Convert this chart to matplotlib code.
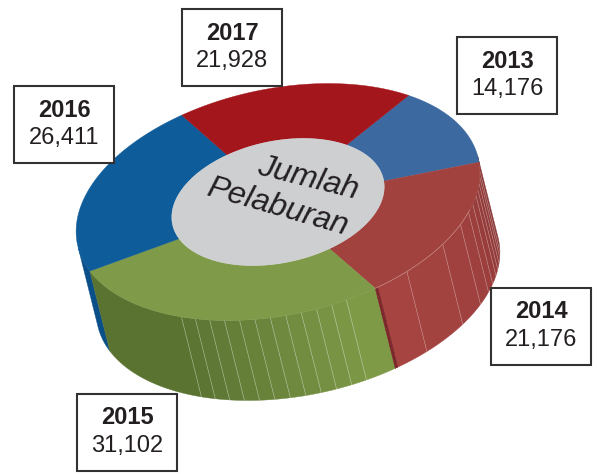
import numpy as np
import matplotlib
matplotlib.use("Agg")
import matplotlib.pyplot as plt
from matplotlib.patches import Polygon, Rectangle
from matplotlib.colors import to_rgb

years = ["2013", "2014", "2015", "2016", "2017"]
values = [14176, 21176, 31102, 26411, 21928]
value_labels = ["14,176", "21,176", "31,102", "26,411", "21,928"]
centre_label = ["Jumlah", "Pelaburan"]

top_colors = ["#3c6aa0", "#a1423f", "#7f9a48", "#0e5c99", "#a3161c"]
box_xy = {"2013": (457, 37), "2014": (491, 288), "2015": (77, 394), "2016": (14, 86), "2017": (182, 9)}

plt.rcParams["font.family"] = ["Liberation Sans", "DejaVu Sans"]
fig = plt.figure(figsize=(5.97, 4.74), dpi=100)
ax = fig.add_axes([0, 0, 1, 1])
ax.set_xlim(0, 597)
ax.set_ylim(474, 0)
ax.axis("off")

# Projection of the tilted ring, in pixel space
cx, cy = 278.0, 202.0
tilt = np.radians(12)
U = np.array([np.cos(tilt), -np.sin(tilt)])
V = np.array([np.sin(tilt), np.cos(tilt)])
OUT = (205.0, 113.0)
HOLE = (108.0, 61.0)
DEPTH = np.array([20.0, 80.0])
START = -43.0


def pts(theta_deg, radii):
    t = np.radians(np.atleast_1d(theta_deg))[:, None]
    return np.array([cx, cy]) + radii[0] * np.cos(t) * U + radii[1] * np.sin(t) * V


def arc(a, b):
    return np.linspace(a, b, max(3, int(abs(b - a) * 2)))


spans = np.array(values) / np.sum(values) * 360
edges = START + np.concatenate([[0], np.cumsum(spans)])
red_start, red_end, green_end = edges[1], edges[2], edges[3]


def side(a, b, color, z=2):
    o = pts(arc(a, b), OUT)
    poly = np.vstack([o, (o + DEPTH)[::-1]])
    ax.add_patch(Polygon(poly, closed=True, fc=color, ec=color, lw=0.3, zorder=z))


def mix(c1, c2, f):
    return tuple(np.array(to_rgb(c1)) * (1 - f) + np.array(to_rgb(c2)) * f)


def hairline(theta, color="#ffffff", alpha=0.4):
    p = pts(theta, OUT)[0]
    ax.plot([p[0], p[0] + DEPTH[0]], [p[1], p[1] + DEPTH[1]], color=color, lw=0.5, alpha=alpha, zorder=4)


# Side walls, back to front: blue sliver on the left
side(green_end, 178.0, "#0b4f88", 1)

# Green wall: flat dark part then lighter facets towards the right
green_lines = np.arange(red_end + 9, 125.5, 4.4)
side(green_lines[-1], green_end, "#5a7331", 2)
bounds = np.concatenate([[red_end], green_lines])
for i in range(len(bounds) - 1):
    f = i / (len(bounds) - 2)
    side(bounds[i], bounds[i + 1], mix("#7e9a47", "#5c7533", f), 3)
for th in green_lines:
    hairline(th)

# Red wall: facets get narrower to the right
red_lines = [6, 9, 12, 15, 18, 22, 26, 32, 42, 57]
rb = [-2.0] + red_lines + [red_end]
for i in range(len(rb) - 1):
    f = i / (len(rb) - 2)
    side(rb[i], rb[i + 1], mix("#8a3635", "#a64441", f), 3)
for th in red_lines:
    hairline(th, alpha=0.33)
side(red_end - 0.8, red_end, "#7a2a2c", 4)

# Top face
for i in range(len(values)):
    th = arc(edges[i], edges[i + 1])
    poly = np.vstack([pts(th, OUT), pts(th[::-1], HOLE)])
    ax.add_patch(Polygon(poly, closed=True, fc=top_colors[i], ec=top_colors[i], lw=0.3, zorder=5))

# Light rim on the red front edge
rim = pts(arc(25, red_end), OUT)
ax.plot(rim[:, 0], rim[:, 1], color="#d8a8a0", lw=0.5, alpha=0.7, zorder=6)

# Hole
hole = pts(np.linspace(0, 360, 361), HOLE)
ax.add_patch(Polygon(hole, closed=True, fc="#cdcfd1", ec="none", zorder=7))

# Centre label
ax.text(308, 179, centre_label[0], rotation=-14, rotation_mode="anchor", ha="center", va="center",
        style="italic", fontsize=23, color="#231f20", zorder=8)
ax.text(277, 207, centre_label[1], rotation=-16, rotation_mode="anchor", ha="center", va="center",
        style="italic", fontsize=23, color="#231f20", zorder=8)

# Label boxes
for y, lab in zip(years, value_labels):
    x0, y0 = box_xy[y]
    ax.add_patch(Rectangle((x0, y0), 100, 77, fc="white", ec="#333132", lw=1.5, zorder=9))
    ax.text(x0 + 50, y0 + 24, y, ha="center", va="center", fontsize=17, fontweight="bold", color="#231f20", zorder=10)
    ax.text(x0 + 50, y0 + 52, lab, ha="center", va="center", fontsize=17, color="#231f20", zorder=10)

fig.savefig("out.png", dpi=100)
